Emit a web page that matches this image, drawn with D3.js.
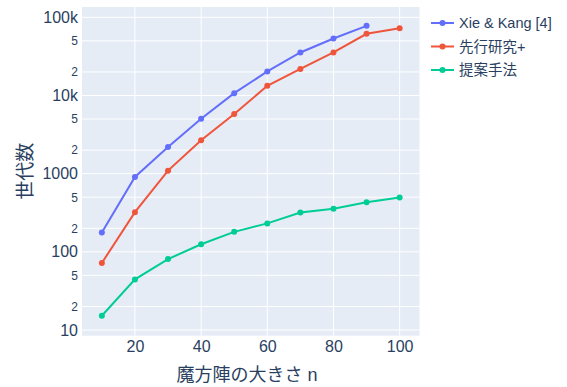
<!DOCTYPE html>
<html><head><meta charset="utf-8">
<script src="https://cdn.jsdelivr.net/npm/d3@7"></script>
<style>body{margin:0;background:#fff}svg{display:block}</style>
</head><body>
<svg id="c" width="567" height="387"></svg>
<script>
const nValues = [10,20,30,40,50,60,70,80,90,100];
const seriesNames = ["Xie & Kang [4]", "先行研究+", "提案手法"];
const xieKang = [177, 906, 2190, 5050, 10700, 20300, 35500, 53600, 77800];
const prior = [72, 322, 1093, 2670, 5780, 13300, 21900, 35500, 61500, 72600];
const proposed = [15.2, 44.4, 80.7, 125, 180, 231, 319, 355, 432, 497];
const colors = ["#636efa", "#EF553B", "#00cc96"];
const xTicks = [20,40,60,80,100];
const yMajorTicks = [10,100,1000,10000,100000];
const yMajorLabels = ["10","100","1000","10k","100k"];
const yMinorTicks = [20,50,200,500,2000,5000,20000,50000];
const yMinorLabels = ["2","5","2","5","2","5","2","5"];
const xTitle = "魔方陣の大きさ n";
const yTitle = "世代数";

const font = "'Liberation Sans','Noto Sans CJK JP',Arial,sans-serif";
const textColor = "#2a3f5f";
const L = 82, R = 419.5, T = 7, B = 335.7;
const svg = d3.select("#c");
const x = d3.scaleLinear().domain([4,106]).range([L,R]);
const y = d3.scaleLog().domain([Math.pow(10,0.927), Math.pow(10,5.132)]).range([B,T]);

svg.append("rect").attr("x",L).attr("y",T).attr("width",R-L).attr("height",B-T).attr("fill","#E5ECF6");

const g = svg.append("g");
g.selectAll(".xg").data(xTicks).enter().append("line")
  .attr("x1",d=>x(d)).attr("x2",d=>x(d)).attr("y1",T).attr("y2",B)
  .attr("stroke","#fff").attr("stroke-width",1);
g.selectAll(".yg").data(yMajorTicks.concat(yMinorTicks)).enter().append("line")
  .attr("x1",L).attr("x2",R).attr("y1",d=>y(d)).attr("y2",d=>y(d))
  .attr("stroke","#fff").attr("stroke-width",1);

const xAxis = d3.axisBottom(x).tickValues(xTicks).tickSize(0).tickPadding(5);
const xa = svg.append("g").attr("transform",`translate(0,${B})`).call(xAxis);
xa.select(".domain").remove();
xa.selectAll("text").attr("font-family",font).attr("font-size",16).attr("fill",textColor);

const yAxisMaj = d3.axisLeft(y).tickValues(yMajorTicks).tickFormat((d,i)=>yMajorLabels[i]).tickSize(0).tickPadding(3);
const ya = svg.append("g").attr("transform",`translate(${L-1},0)`).call(yAxisMaj);
ya.select(".domain").remove();
ya.selectAll("text").attr("font-family",font).attr("font-size",16).attr("fill",textColor);
const yAxisMin = d3.axisLeft(y).tickValues(yMinorTicks).tickFormat((d,i)=>yMinorLabels[i]).tickSize(0).tickPadding(3);
const ym = svg.append("g").attr("transform",`translate(${L-1},0)`).call(yAxisMin);
ym.select(".domain").remove();
ym.selectAll("text").attr("font-family",font).attr("font-size",12).attr("fill",textColor);

const allSeries = [xieKang, prior, proposed];
const line = d3.line().x(d=>x(d[0])).y(d=>y(d[1]));
allSeries.forEach((vals,i)=>{
  const pts = vals.map((v,j)=>[nValues[j],v]);
  svg.append("path").datum(pts).attr("d",line).attr("fill","none")
    .attr("stroke",colors[i]).attr("stroke-width",2);
  svg.selectAll(".p"+i).data(pts).enter().append("circle")
    .attr("cx",d=>x(d[0])).attr("cy",d=>y(d[1])).attr("r",3)
    .attr("fill",colors[i]);
});

const lg = svg.append("g");
seriesNames.forEach((name,i)=>{
  const cy = 23 + i*23.5;
  lg.append("line").attr("x1",431).attr("x2",454).attr("y1",cy).attr("y2",cy)
    .attr("stroke",colors[i]).attr("stroke-width",2);
  lg.append("circle").attr("cx",442.5).attr("cy",cy).attr("r",3).attr("fill",colors[i]);
  lg.append("text").attr("x",459).attr("y",cy).attr("dy","0.35em")
    .attr("font-family",font).attr("font-size",14.5).attr("fill",textColor).text(name);
});

svg.append("text").attr("x",247).attr("y",381).attr("text-anchor","middle")
  .attr("font-family",font).attr("font-size",18).attr("fill",textColor).text(xTitle);
svg.append("text").attr("transform",`translate(32,${(T+B)/2}) rotate(-90)`).attr("text-anchor","middle")
  .attr("font-family",font).attr("font-size",19).attr("fill",textColor).text(yTitle);
</script>
</body></html>
